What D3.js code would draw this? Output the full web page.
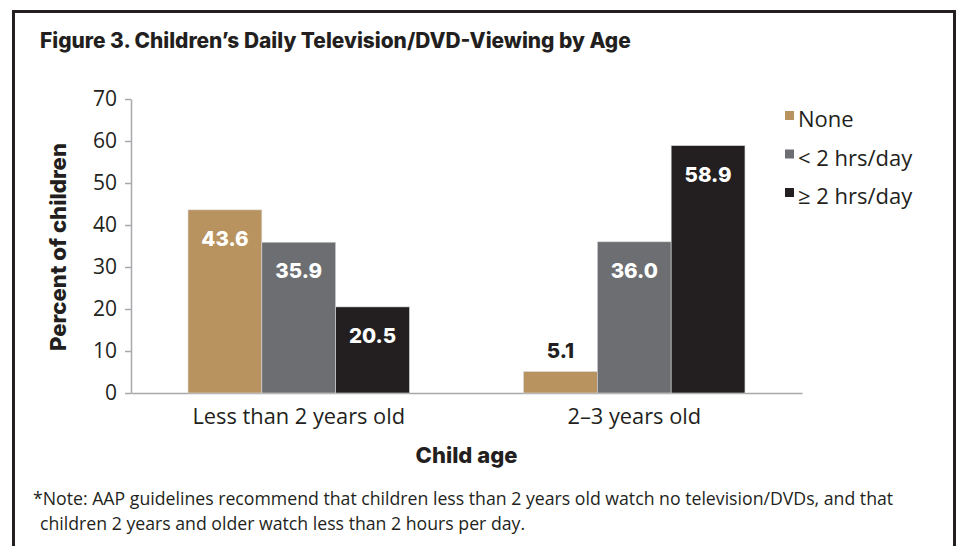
<!DOCTYPE html>
<html>
<head>
<meta charset="utf-8">
<script src="https://cdn.jsdelivr.net/npm/d3@7"></script>
<style>
  html, body { margin: 0; padding: 0; background: #fff; }
  svg { display: block; }
  text { font-family: "Open Sans", Roboto, sans-serif; fill: #231f20; }
  .heavy { font-family: Inter, Roboto, sans-serif; font-weight: 800; }
</style>
</head>
<body>
<svg id="chart" width="959" height="546"></svg>
<script>
// Data
const ageGroups = ["Less than 2 years old", "2\u20133 years old"];
const seriesNames = ["None", "< 2 hrs/day", "\u2265 2 hrs/day"];
const noneValues = [43.6, 5.1];
const underTwoValues = [35.9, 36.0];
const twoPlusValues = [20.5, 58.9];
const yTicks = [0, 10, 20, 30, 40, 50, 60, 70];
const seriesColors = ["#b9935f", "#6d6e71", "#231f20"];

const seriesValues = [noneValues, underTwoValues, twoPlusValues];

const svg = d3.select("#chart");

// Frame around the figure (open at the bottom)
svg.append("path")
  .attr("d", "M13.5,546 V11.5 H954.5 V546")
  .attr("fill", "none")
  .attr("stroke", "#231f20")
  .attr("stroke-width", 3);

// Title
svg.append("text")
  .attr("class", "heavy")
  .attr("x", 40).attr("y", 48)
  .attr("font-size", 20.9)
  .text("Figure 3. Children\u2019s Daily Television/DVD-Viewing by Age");

const plot = { left: 131, right: 802, top: 99, bottom: 393 };

const x0 = d3.scaleBand()
  .domain(ageGroups)
  .range([plot.left, plot.right])
  .paddingInner(0.34)
  .paddingOuter(0.17);

const x1 = d3.scaleBand()
  .domain(seriesNames)
  .range([0, x0.bandwidth()]);

const y = d3.scaleLinear()
  .domain([0, 70])
  .range([plot.bottom, plot.top]);

// Y axis
const yAxis = svg.append("g")
  .attr("transform", `translate(${plot.left},0)`)
  .call(d3.axisLeft(y).tickValues(yTicks).tickSize(6).tickPadding(8).tickSizeOuter(0));
yAxis.select(".domain").attr("stroke", "#a7a9ac").attr("stroke-width", 1.5);
yAxis.selectAll(".tick line").attr("stroke", "#a7a9ac").attr("stroke-width", 1.5);
yAxis.selectAll(".tick text")
  .attr("font-size", 21).attr("font-family", "'Open Sans', sans-serif").attr("fill", "#231f20");

// X axis baseline
const xAxis = svg.append("g")
  .attr("transform", `translate(0,${plot.bottom})`)
  .call(d3.axisBottom(x0).tickSize(0).tickPadding(16).tickSizeOuter(0));
xAxis.select(".domain").attr("stroke", "#a7a9ac").attr("stroke-width", 1.5);
xAxis.selectAll(".tick text")
  .attr("font-size", 21.8).attr("font-family", "'Open Sans', sans-serif").attr("fill", "#231f20");

// Bars
const groups = svg.append("g").selectAll("g")
  .data(ageGroups)
  .join("g")
  .attr("transform", d => `translate(${x0(d)},0)`);

groups.selectAll("rect")
  .data((d, gi) => seriesNames.map((s, si) => ({ s, si, v: seriesValues[si][gi] })))
  .join("rect")
  .attr("x", d => x1(d.s))
  .attr("y", d => y(d.v))
  .attr("width", x1.bandwidth())
  .attr("height", d => y(0) - y(d.v))
  .attr("fill", d => seriesColors[d.si])
  .attr("stroke", "#d9d9d9")
  .attr("stroke-width", 0.6);

// Value labels: inside near the top, or above when the bar is short
groups.selectAll("text.value")
  .data((d, gi) => seriesNames.map((s, si) => ({ s, si, v: seriesValues[si][gi] })))
  .join("text")
  .attr("class", "value heavy")
  .attr("x", d => x1(d.s) + x1.bandwidth() / 2)
  .attr("y", d => (y(0) - y(d.v) > 60) ? y(d.v) + 36 : y(d.v) - 14)
  .attr("text-anchor", "middle")
  .attr("font-size", 20.5)
  .style("fill", d => (y(0) - y(d.v) > 60) ? "#ffffff" : "#231f20")
  .text(d => d.v.toFixed(1));

// Y axis title
svg.append("text")
  .attr("class", "heavy")
  .attr("transform", `translate(66,${(plot.top + plot.bottom) / 2 + 1}) rotate(-90)`)
  .attr("text-anchor", "middle")
  .attr("font-size", 22.2)
  .text("Percent of children");

// X axis title
svg.append("text")
  .attr("class", "heavy")
  .attr("x", (plot.left + plot.right) / 2).attr("y", 463)
  .attr("text-anchor", "middle")
  .attr("font-size", 22)
  .text("Child age");

// Legend
const legend = svg.append("g").attr("transform", "translate(785,111)");
const item = legend.selectAll("g")
  .data(seriesNames)
  .join("g")
  .attr("transform", (d, i) => `translate(0,${i * 38.5})`);
item.append("rect")
  .attr("width", 9).attr("height", 9)
  .attr("fill", (d, i) => seriesColors[i]);
item.append("text")
  .attr("x", 13).attr("y", 16)
  .attr("font-size", 22)
  .text(d => d);

// Footnote
const note = svg.append("text").attr("font-size", 17.7);
note.append("tspan").attr("x", 33).attr("y", 505)
  .text("*Note: AAP guidelines recommend that children less than 2 years old watch no television/DVDs, and that");
note.append("tspan").attr("x", 40).attr("y", 530)
  .text("children 2 years and older watch less than 2 hours per day.");
</script>
</body>
</html>
